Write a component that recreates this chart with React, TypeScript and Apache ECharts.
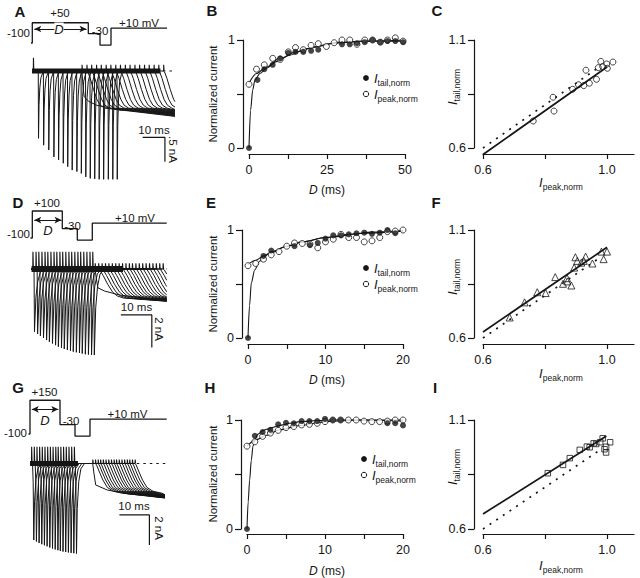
import React, { useEffect, useRef } from "react";
import * as echarts from "echarts";

const FONT = "'Liberation Sans', Arial, Helvetica, sans-serif";
const INK = "#161616";

// ---------------- Panel B (D 0–50 ms) ----------------
const B_tailX = [0, 2.7, 4.9, 7.6, 10, 12.6, 14.9, 17.4, 19.9, 22.2, 29.8, 32.3, 34.6, 37.1, 39.6, 42.1, 44.4, 46.9, 49.4];
const B_tailY = [0, 0.63, 0.73, 0.77, 0.83, 0.88, 0.89, 0.89, 0.9, 0.91, 0.96, 0.96, 0.97, 0.98, 1.0, 0.98, 0.99, 0.99, 0.98];
const B_peakX = [0, 2.4, 4.9, 7.6, 10, 12.6, 14.9, 17.4, 19.9, 22.2, 24.8, 27.3, 29.8, 32.3, 34.6, 37.1, 39.6, 42.1, 44.4, 46.9, 49.4];
const B_peakY = [0.59, 0.73, 0.77, 0.83, 0.82, 0.89, 0.93, 0.91, 0.95, 0.966, 0.94, 0.975, 1.0, 1.0, 0.96, 1.0, 1.0, 0.98, 1.0, 1.02, 0.99];
const B_tailFitX = [0, 0.5, 1.2, 1.9, 3.5, 5.6, 8.8, 13.1, 18.4, 27, 37.6, 50];
const B_tailFitY = [0, 0.35, 0.54, 0.63, 0.69, 0.74, 0.8, 0.86, 0.92, 0.97, 0.99, 1.0];
const B_peakFitX = [0, 2.4, 5.6, 9.8, 15.2, 21.6, 29.1, 37.6, 50];
const B_peakFitY = [0.6, 0.69, 0.75, 0.83, 0.89, 0.94, 0.98, 0.99, 0.99];

// ---------------- Panel E (D 0–20 ms) ----------------
const E_tailX = [0, 2, 3, 6, 8, 9, 10, 11, 12, 13, 14, 15, 16, 17, 18, 19];
const E_tailY = [0, 0.76, 0.81, 0.85, 0.86, 0.88, 0.92, 0.95, 0.95, 0.96, 0.97, 0.975, 0.965, 0.975, 1.0, 0.97];
const E_peakX = [0, 1, 2, 3, 4, 5, 6, 7, 8, 9, 10, 11, 12, 13, 14, 15, 16, 17, 18, 19, 20];
const E_peakY = [0.67, 0.69, 0.73, 0.77, 0.8, 0.85, 0.88, 0.875, 0.87, 0.835, 0.89, 0.915, 0.96, 0.93, 0.93, 0.89, 0.9, 0.93, 0.985, 0.99, 1.0];
const E_tailFitX = [0, 0.2, 0.43, 0.86, 1.5, 2, 3, 5, 7, 10, 15, 20];
const E_tailFitY = [0, 0.3, 0.51, 0.63, 0.71, 0.75, 0.8, 0.85, 0.89, 0.93, 0.97, 0.99];
const E_peakFitX = [0, 1, 2, 3, 5, 7, 10, 13, 16, 20];
const E_peakFitY = [0.68, 0.72, 0.76, 0.79, 0.85, 0.89, 0.93, 0.96, 0.98, 0.995];

// ---------------- Panel H (D 0–20 ms) ----------------
const H_tailX = [0, 1, 2, 3, 4, 5, 6, 7, 8, 9, 10, 11, 12, 18, 19, 20];
const H_tailY = [0, 0.855, 0.89, 0.91, 0.96, 0.975, 0.97, 0.99, 0.99, 0.99, 1.01, 1.0, 1.0, 0.97, 0.97, 0.95];
const H_peakX = [0, 1, 2, 3, 4, 5, 6, 7, 8, 9, 10, 11, 12, 13, 14, 15, 16, 17, 18, 19, 20];
const H_peakY = [0.76, 0.8, 0.85, 0.88, 0.905, 0.93, 0.94, 0.955, 0.96, 0.97, 0.985, 1.0, 1.0, 1.0, 1.0, 0.99, 0.985, 0.985, 0.99, 1.0, 1.0];
const H_tailFitX = [0, 0.15, 0.34, 0.55, 0.77, 1.0, 1.4, 2, 2.5, 3.2, 4.2, 5.5, 6.8, 9, 11, 15, 20];
const H_tailFitY = [0, 0.25, 0.45, 0.63, 0.76, 0.82, 0.87, 0.9, 0.915, 0.93, 0.95, 0.97, 0.985, 0.995, 1.0, 1.0, 0.99];
const H_peakFitX = [0, 1.2, 2.5, 4.2, 6.8, 10.2, 14.4, 20];
const H_peakFitY = [0.76, 0.82, 0.86, 0.91, 0.95, 0.985, 1.0, 1.0];

// ---------------- Panels C, F, I (I_tail vs I_peak) ----------------
const C_x = [0.762, 0.826, 0.829, 0.889, 0.908, 0.925, 0.943, 0.932, 0.966, 0.972, 0.98, 0.986, 0.999, 1.001, 1.019];
const C_y = [0.725, 0.835, 0.771, 0.872, 0.893, 0.889, 0.9, 0.96, 0.918, 0.972, 1.001, 0.977, 0.989, 0.969, 0.998];
const C_fitX = [0.6, 1.0];
const C_fitY = [0.57, 0.975];
const C_unityX = [0.6, 0.975];
const C_unityY = [0.6, 0.975];

const F_x = [0.686, 0.734, 0.775, 0.802, 0.833, 0.858, 0.871, 0.872, 0.885, 0.894, 0.898, 0.904, 0.917, 0.925, 0.931, 0.953, 0.982, 0.989, 1.0];
const F_y = [0.695, 0.765, 0.812, 0.808, 0.882, 0.851, 0.877, 0.862, 0.843, 0.926, 0.974, 0.957, 0.949, 0.957, 0.977, 0.945, 1.0, 0.965, 1.0];
const F_fitX = [0.6, 1.0];
const F_fitY = [0.628, 1.02];
const F_unityX = [0.6, 0.98];
const F_unityY = [0.6, 0.975];

const I_x = [0.809, 0.858, 0.88, 0.912, 0.935, 0.944, 0.957, 0.965, 0.978, 0.986, 0.992, 0.997, 1.01, 0.997];
const I_y = [0.856, 0.894, 0.925, 0.963, 0.978, 0.975, 0.993, 0.99, 0.998, 1.016, 0.966, 0.951, 0.998, 0.977];
const I_fitX = [0.6, 0.998];
const I_fitY = [0.669, 1.027];
const I_unityX = [0.6, 0.98];
const I_unityY = [0.6, 0.965];

// ---------------- Current traces (time in ms, current in nA) ----------------
// A
const A_spikeT = [3.7, 6.0, 8.3, 10.6, 12.7, 14.8, 16.8, 18.8, 20.9, 22.9, 24.9, 26.9, 28.9, 30.9, 32.9, 35.0, 37.0, 39.0];
const A_spikeI = [-1.38, -1.52, -1.62, -1.76, -1.82, -1.89, -1.96, -2.03, -2.06, -2.1, -2.17, -2.2, -2.21, -2.22, -2.22, -2.22, -2.22, -2.22];
const A_onT = [23.3, 25.5, 27.6, 29.8, 31.9, 34.1, 36.2, 38.4, 40.5, 42.7, 44.8, 47.0, 49.1, 51.3, 53.4, 55.6, 57.7, 59.9];
const A_endI = [-0.87, -0.93, -0.92, -0.91, -0.9, -0.89, -0.88, -0.87, -0.86, -0.85, -0.84, -0.83, -0.82, -0.81, -0.8, -0.79, -0.78, -0.77];
const A_spkT = [0, 0.12, 0.35, 0.7, 1.2, 2.0, 3.0];
const A_spkF = [0, 1, 0.5, 0.25, 0.1, 0.03, 0];
const A_upT = [1.5];
const A_upI = [0.27];
const A_onUpI = 0.13;
const A_firstT = [0, 0.45, 1.0, 3, 6.5, 17, 31.8];
const A_firstI = [0, -0.3, -0.53, -0.62, -0.7, -0.8, -0.834];
const A_laterT = [0, 0.45, 1.5, 3, 4.5, 6, 8];
const A_laterI = [0, -0.02, -0.15, -0.38, -0.58, -0.7, -0.76];
const A_band = [[0.9, 0], [58.5, 0]];
const A_zero = [[59.6, 0], [65, 0]];
const A_scale = [[50.5, -1.36], [60.5, -1.36], [60.5, -1.86]];

// D
const D_spikeT = [1.0, 2.0, 2.9, 3.9, 4.9, 5.8, 6.8, 7.8, 8.7, 9.7, 10.6, 11.6, 12.6, 13.5, 14.5, 15.5, 16.4, 17.4, 18.4, 19.4, 20.3];
const D_spikeI = [-3.85, -3.98, -4.1, -4.23, -4.36, -4.47, -4.57, -4.67, -4.77, -4.84, -4.91, -4.97, -5.02, -5.07, -5.11, -5.15, -5.19, -5.23, -5.25, -5.27, -5.28];
const D_onT = [21.0, 22.1, 23.2, 24.3, 25.4, 26.5, 27.6, 28.7, 29.8, 30.9, 32.0, 33.0, 34.1, 35.2, 36.3, 37.4, 38.5, 39.6, 40.7, 41.8, 42.9];
const D_endI = [-1.9, -1.98, -1.97, -1.96, -1.95, -1.94, -1.92, -1.9, -1.88, -1.86, -1.84, -1.82, -1.8, -1.78, -1.76, -1.74, -1.72, -1.7, -1.67, -1.64, -1.6];
const D_spkT = [0, 0.3, 0.45, 0.9, 1.5, 2.3, 3.5];
const D_spkF = [0, 0, 1, 0.45, 0.2, 0.06, 0];
const D_upT = [0.9, 1.9, 2.8, 3.8, 4.8, 5.7, 6.7, 7.7, 8.6, 9.6, 10.5, 11.5, 12.5, 13.4, 14.4, 15.4, 16.3, 17.3, 18.3, 19.3, 20.2];
const D_upI = [1.06, 1.06, 1.06, 1.06, 1.06, 1.06, 1.06, 1.06, 1.06, 1.06, 1.06, 1.06, 1.06, 1.06, 1.06, 1.06, 1.06, 1.06, 1.06, 1.06, 1.06];
const D_onUpI = 0.35;
const D_firstT = [0, 0.4, 0.9, 3, 8, 16.8];
const D_firstI = [0, -0.6, -1.15, -1.35, -1.6, -1.8];
const D_laterT = [0, 0.4, 1.5, 3, 4.5, 6, 8];
const D_laterI = [0, -0.05, -0.4, -0.95, -1.4, -1.65, -1.78];
const D_band = [[0.5, 0], [30, 0]];
const D_zero = [[39.7, 0], [44.1, 0]];
const D_scale = [[29.3, -2.82], [39.3, -2.82], [39.3, -4.82]];

// G
const G_spikeT = [0.56, 1.44, 2.33, 3.22, 4.1, 5.0, 5.9, 6.8, 7.7, 8.6, 9.4, 10.3, 11.2, 12.1, 13.0, 13.9, 14.8];
const G_spikeI = [-5.1, -5.2, -5.3, -5.38, -5.45, -5.52, -5.6, -5.67, -5.73, -5.78, -5.83, -5.87, -5.9, -5.93, -5.96, -5.98, -6.0];
const G_onT = [20.9, 21.8, 22.7, 23.5, 24.4, 25.3, 26.2, 27.1, 28.0, 28.8, 29.7, 30.6, 31.5, 32.4, 33.2, 34.1, 35.0];
const G_endI = [-2.21, -2.3, -2.29, -2.28, -2.27, -2.26, -2.25, -2.24, -2.23, -2.22, -2.2, -2.18, -2.16, -2.14, -2.12, -2.1, -2.08];
const G_spkT = [0, 0.3, 0.5, 0.7, 0.95, 1.45, 2.15, 3.35];
const G_spkF = [0, 0.02, 0.25, 1, 0.5, 0.2, 0.06, 0];
const G_upT = [0.5, 1.38, 2.27, 3.16, 4.04, 4.94, 5.84, 6.74, 7.64, 8.54, 9.34, 10.24, 11.14, 12.04, 12.94, 13.84, 14.74];
const G_upI = [1.12, 1.12, 1.12, 1.12, 1.12, 1.12, 1.12, 1.12, 1.12, 1.12, 1.12, 1.12, 1.12, 1.12, 1.12, 1.12, 1.12];
const G_onUpI = 0.27;
const G_firstT = [0, 0.4, 1.0, 4.9, 12.6];
const G_firstI = [0, -0.63, -1.43, -1.77, -2.05];
const G_laterT = [0, 0.4, 1.2, 2.5, 4, 6, 9];
const G_laterI = [0, -0.1, -0.5, -1.1, -1.6, -1.85, -1.98];
const G_band = [[0, 0], [16, 0]];
const G_zero = [[35.6, 0], [45.6, 0]];
const G_scale = [[29.8, -3.43], [39.8, -3.43], [39.8, -5.43]];

// ---------------- Voltage protocols (schematic time, mV) ----------------
const A_protT = [3, 4.3, 4.3, 60.3, 60.3, 72, 72, 83, 83, 139];
const A_protV = [-100, -100, 50, 50, -30, -30, -115, -115, 10, 10];
const D_protT = [2.5, 4.3, 4.3, 34.3, 34.3, 49.3, 49.3, 64.3, 64.3, 138.7];
const D_protV = [-100, -100, 100, 100, -30, -30, -115, -115, 10, 10];
const G_protT = [0.5, 2, 2, 32, 32, 47, 47, 62, 62, 138.7];
const G_protV = [-100, -100, 150, 150, -30, -30, -115, -115, 10, 10];
const A_arrow = [6.3, 58.5, 3.7];
const D_arrow = [6.3, 33.5, 33];
const G_arrow = [3.8, 30.3, 83];

type Pt = [number, number];
const zip = (xs: number[], ys: number[]): Pt[] => xs.map((x, i) => [x, ys[i]]);

type TraceCfg = {
  t0: number; tEnd: number;
  spikeT: number[]; spikeI: number[]; onT: number[]; endI: number[];
  spkT: number[]; spkF: number[];
  firstT: number[]; firstI: number[]; laterT: number[]; laterI: number[];
};

function buildSweep(c: TraceCfg, i: number): Pt[] {
  const pts: Pt[] = [[c.t0, 0]];
  const s = c.spikeT[i];
  pts.push([s, 0]);
  for (let k = 1; k < c.spkT.length; k++) pts.push([s + c.spkT[k], c.spkF[k] * c.spikeI[i]]);
  const on = c.onT[i];
  pts.push([on, 0]);
  const tT = i === 0 ? c.firstT : c.laterT;
  const tI = i === 0 ? c.firstI : c.laterI;
  let truncated = false;
  for (let k = 1; k < tT.length; k++) {
    const t = on + tT[k];
    if (t >= c.tEnd) {
      const pt = on + tT[k - 1];
      const f = (c.tEnd - pt) / (t - pt);
      pts.push([c.tEnd, tI[k - 1] + f * (tI[k] - tI[k - 1])]);
      truncated = true;
      break;
    }
    pts.push([t, tI[k]]);
  }
  if (!truncated) pts.push([c.tEnd, c.endI[i]]);
  return pts;
}

// outward transients: thin upward strokes from the zero line
function buildTicks(ts: number[], hs: number[]): any[] {
  const out: any[] = [];
  ts.forEach((t, i) => out.push([t, 0], [t + 0.05, hs[i]], [t + 0.2, 0], "-"));
  return out;
}

const A_cfg: TraceCfg = {
  t0: 0.9, tEnd: 65, spikeT: A_spikeT, spikeI: A_spikeI, onT: A_onT, endI: A_endI,
  spkT: A_spkT, spkF: A_spkF, firstT: A_firstT, firstI: A_firstI, laterT: A_laterT, laterI: A_laterI,
};
const D_cfg: TraceCfg = {
  t0: 0.5, tEnd: 44.1, spikeT: D_spikeT, spikeI: D_spikeI, onT: D_onT, endI: D_endI,
  spkT: D_spkT, spkF: D_spkF, firstT: D_firstT, firstI: D_firstI, laterT: D_laterT, laterI: D_laterI,
};
const G_cfg: TraceCfg = {
  t0: 0, tEnd: 45, spikeT: G_spikeT, spikeI: G_spikeI, onT: G_onT, endI: G_endI,
  spkT: G_spkT, spkF: G_spkF, firstT: G_firstT, firstI: G_firstI, laterT: G_laterT, laterI: G_laterI,
};

const richSub = (iSize: number, sSize: number) => ({
  i: { fontFamily: FONT, fontStyle: "italic", fontSize: iSize, lineHeight: 18, verticalAlign: "middle", fill: INK },
  s: { fontFamily: FONT, fontSize: sSize, lineHeight: 8, verticalAlign: "bottom", fill: INK },
  d: { fontFamily: FONT, fontStyle: "italic", fontSize: 12, fill: INK },
});

function txt(x: number, y: number, text: string, opts: any = {}) {
  const { rotation, align, size, bold, italic, rich, bg } = opts;
  const style: any = {
    text,
    fill: INK,
    fontFamily: FONT,
    fontSize: size || 12,
    fontWeight: bold ? "bold" : "normal",
    fontStyle: italic ? "italic" : "normal",
    align: align || "center",
    verticalAlign: "middle",
    textAlign: align || "center",
    textVerticalAlign: "middle",
  };
  if (rich) style.rich = rich;
  if (bg) style.backgroundColor = bg;
  return { type: "text", x, y, rotation: rotation || 0, silent: true, z: 50, style };
}

function buildOption(): any {
  const grids = [
    { left: 30, top: 55, width: 150, height: 128 },      // 0 A trace
    { left: 28, top: 7.9, width: 142, height: 37.8 },    // 1 A protocol
    { left: 249, top: 40, width: 156, height: 108 },     // 2 B
    { left: 483, top: 40, width: 151, height: 108 },     // 3 C
    { left: 30, top: 245, width: 150, height: 120 },     // 4 D trace
    { left: 28, top: 202.9, width: 142, height: 37.8 },  // 5 D protocol
    { left: 248, top: 230, width: 155, height: 108 },    // 6 E
    { left: 483, top: 230, width: 151, height: 108 },    // 7 F
    { left: 30, top: 440, width: 150, height: 120 },     // 8 G trace
    { left: 28, top: 398.9, width: 142, height: 37.8 },  // 9 G protocol
    { left: 247, top: 420, width: 156, height: 109 },    // 10 H
    { left: 483, top: 420, width: 151, height: 109 },    // 11 I
  ];

  const hidden = (gi: number, min: number, max: number) => ({
    gridIndex: gi, type: "value", min, max, show: false, axisLine: { onZero: false },
  });

  const axLine = { show: true, onZero: false, lineStyle: { color: INK, width: 1.2 } };
  const sx = (gi: number, min: number, max: number, ticks: number[], labels: number[], offset: number, dec: number) => ({
    gridIndex: gi, type: "value", min, max, offset, position: "bottom",
    axisLine: axLine,
    axisTick: { show: true, length: 5, customValues: ticks, lineStyle: { color: INK, width: 1.2 } },
    axisLabel: { customValues: labels, formatter: (v: number) => v.toFixed(dec), color: INK, fontFamily: FONT, fontSize: 12.5, margin: 9 },
    splitLine: { show: false },
  });
  const sy = (gi: number, min: number, max: number, ticks: number[], labels: number[], offset: number, dec: number) => ({
    gridIndex: gi, type: "value", min, max, offset, position: "left",
    axisLine: axLine,
    axisTick: { show: true, length: 6, customValues: ticks, lineStyle: { color: INK, width: 1.2 } },
    axisLabel: { customValues: labels, formatter: (v: number) => v.toFixed(dec), color: INK, fontFamily: FONT, fontSize: 12.5, margin: 8 },
    splitLine: { show: false },
  });

  const xAxis = [
    hidden(0, 0, 67.26),
    hidden(1, 0, 142),
    sx(2, 0, 50, [0, 12.5, 25, 37.5, 50], [0, 25, 50], 6, 0),
    sx(3, 0.6, 1.087, [0.6, 0.8, 1.0], [0.6, 1.0], 6, 1),
    hidden(4, 0, 48.39),
    hidden(5, 0, 142),
    sx(6, 0, 20, [0, 5, 10, 15, 20], [0, 10, 20], 6, 0),
    sx(7, 0.6, 1.087, [0.6, 0.8, 1.0], [0.6, 1.0], 6, 1),
    hidden(8, 0, 50),
    hidden(9, 0, 142),
    sx(10, 0, 20, [0, 5, 10, 15, 20], [0, 10, 20], 5, 0),
    sx(11, 0.6, 1.087, [0.6, 0.8, 1.0], [0.6, 1.0], 5, 1),
  ];
  const yAxis = [
    hidden(0, -2.295, 0.328),
    hidden(1, -120, 160),
    sy(2, 0, 1, [0, 0.5, 1], [0, 1], 6, 0),
    sy(3, 0.6, 1.1, [0.6, 0.85, 1.1], [0.6, 1.1], 9, 1),
    hidden(4, -5.89, 1.472),
    hidden(5, -120, 160),
    sy(6, 0, 1, [0, 0.5, 1], [0, 1], 6, 0),
    sy(7, 0.6, 1.1, [0.6, 0.85, 1.1], [0.6, 1.1], 9, 1),
    hidden(8, -6.433, 1.567),
    hidden(9, -120, 160),
    sy(10, 0, 1, [0, 0.5, 1], [0, 1], 6, 0),
    sy(11, 0.6, 1.1, [0.6, 0.85, 1.1], [0.6, 1.1], 9, 1),
  ];

  const series: any[] = [];
  const line = (gi: number, data: any[], width: number, extra: any = {}) => ({
    type: "line", xAxisIndex: gi, yAxisIndex: gi, data, showSymbol: false, symbol: "none",
    silent: true, clip: false, z: extra.z || 2,
    lineStyle: { color: INK, width, ...(extra.lineStyle || {}) },
    ...(extra.rest || {}),
  });

  const traces: [number, TraceCfg, number[][], number[][], number[][], number, number[], number[], number][] = [
    [0, A_cfg, A_band, A_zero, A_scale, 5, A_upT, A_upI, A_onUpI],
    [4, D_cfg, D_band, D_zero, D_scale, 6, D_upT, D_upI, D_onUpI],
    [8, G_cfg, G_band, G_zero, G_scale, 5, G_upT, G_upI, G_onUpI],
  ];
  traces.forEach(([gi, cfg, band, zero, scale, bw, upT, upI, onUp]) => {
    series.push(line(gi, band, bw, { z: 1 }));
    cfg.spikeT.forEach((_, i) => series.push(line(gi, buildSweep(cfg, i), 1, { z: 3 })));
    series.push(line(gi, buildTicks(upT, upI), 1.1, { z: 4 }));
    series.push(line(gi, buildTicks(cfg.onT, cfg.onT.map(() => onUp)), 1.1, { z: 4 }));
    series.push(line(gi, zero, 1.2, { lineStyle: { type: [2.5, 4] } }));
    series.push(line(gi, scale, 1.2));
  });

  const prots: [number, number[], number[], number[]][] = [
    [1, A_protT, A_protV, A_arrow],
    [5, D_protT, D_protV, D_arrow],
    [9, G_protT, G_protV, G_arrow],
  ];
  prots.forEach(([gi, t, v, ar]) => {
    series.push(line(gi, zip(t, v), 1.3, {
      rest: {
        markLine: {
          silent: true,
          symbol: ["arrow", "arrow"],
          symbolSize: [5, 7],
          label: { show: false },
          lineStyle: { color: INK, width: 1, type: "solid" },
          data: [[{ coord: [ar[0], ar[2]] }, { coord: [ar[1], ar[2]] }]],
        },
      },
    }));
  });

  const curves: [number, number[], number[], number[], number[], number[], number[], number[], number[]][] = [
    [2, B_tailX, B_tailY, B_peakX, B_peakY, B_tailFitX, B_tailFitY, B_peakFitX, B_peakFitY],
    [6, E_tailX, E_tailY, E_peakX, E_peakY, E_tailFitX, E_tailFitY, E_peakFitX, E_peakFitY],
    [10, H_tailX, H_tailY, H_peakX, H_peakY, H_tailFitX, H_tailFitY, H_peakFitX, H_peakFitY],
  ];
  curves.forEach(([gi, tx, ty, px, py, tfx, tfy, pfx, pfy]) => {
    series.push(line(gi, zip(tfx, tfy), 1.1, { rest: { smooth: 0.3, smoothMonotone: "x" } }));
    series.push(line(gi, zip(pfx, pfy), 1.1, { rest: { smooth: 0.3, smoothMonotone: "x" } }));
    series.push({
      type: "scatter", xAxisIndex: gi, yAxisIndex: gi, data: zip(px, py), symbol: "circle", symbolSize: 6,
      itemStyle: { color: "#fff", borderColor: INK, borderWidth: 1 }, clip: false, silent: true, z: 3,
    });
    series.push({
      type: "scatter", xAxisIndex: gi, yAxisIndex: gi, data: zip(tx, ty), symbol: "circle", symbolSize: 6,
      itemStyle: { color: INK }, clip: false, silent: true, z: 4,
    });
  });

  const scat: [number, number[], number[], number[], number[], number[], number[], string, number][] = [
    [3, C_x, C_y, C_fitX, C_fitY, C_unityX, C_unityY, "circle", 6],
    [7, F_x, F_y, F_fitX, F_fitY, F_unityX, F_unityY, "triangle", 7],
    [11, I_x, I_y, I_fitX, I_fitY, I_unityX, I_unityY, "rect", 5.5],
  ];
  scat.forEach(([gi, x, y, fx, fy, ux, uy, sym, ss]) => {
    series.push(line(gi, zip(ux, uy), 1.7, { lineStyle: { type: [2, 6] } }));
    series.push(line(gi, zip(fx, fy), 1.7));
    series.push({
      type: "scatter", xAxisIndex: gi, yAxisIndex: gi, data: zip(x, y), symbol: sym, symbolSize: ss,
      itemStyle: { color: "rgba(255,255,255,0)", borderColor: INK, borderWidth: 1 }, clip: false, silent: true, z: 3,
    });
  });

  const R = richSub(13, 8.5);
  const g: any[] = [];
  ([["A", 20, 11.5], ["B", 212, 10], ["C", 437, 10], ["D", 18, 202], ["E", 211, 202], ["F", 436, 202],
    ["G", 18, 387], ["H", 210, 387], ["I", 435, 387]] as [string, number, number][]).forEach(([l, x, y]) =>
    g.push(txt(x, y, l, { size: 15, bold: true })));

  g.push(txt(60, 12.5, "+50", { size: 11.5 }));
  g.push(txt(30, 33, "-100", { size: 11.5, align: "right" }));
  g.push(txt(100, 31, "-30", { size: 11.5 }));
  g.push(txt(139, 22.5, "+10 mV", { size: 11.5 }));
  g.push(txt(59, 29, "D", { size: 13, italic: true, bg: "#fff" }));

  g.push(txt(47, 202.5, "+100", { size: 11.5 }));
  g.push(txt(30, 234, "-100", { size: 11.5, align: "right" }));
  g.push(txt(72.5, 226, "-30", { size: 11.5 }));
  g.push(txt(135, 218, "+10 mV", { size: 11.5 }));
  g.push(txt(48, 230, "D", { size: 13, italic: true }));

  g.push(txt(44.5, 392, "+150", { size: 11.5 }));
  g.push(txt(27, 433, "-100", { size: 11.5, align: "right" }));
  g.push(txt(71, 420.5, "-30", { size: 11.5 }));
  g.push(txt(127.5, 414, "+10 mV", { size: 11.5 }));
  g.push(txt(45, 420, "D", { size: 13, italic: true }));

  g.push(txt(154, 130, "10 ms", { size: 11.5 }));
  g.push(txt(172.5, 149.5, ".5 nA", { size: 11.5, rotation: -Math.PI / 2 }));
  g.push(txt(136.5, 307, "10 ms", { size: 11.5 }));
  g.push(txt(159, 329, "2 nA", { size: 11.5, rotation: -Math.PI / 2 }));
  g.push(txt(134, 506, "10 ms", { size: 11.5 }));
  g.push(txt(159, 528, "2 nA", { size: 11.5, rotation: -Math.PI / 2 }));

  ([[94, 190, 78, 94, 366], [284, 380, 268, 284, 366], [474, 571, 459, 475, 364]] as number[][]).forEach(
    ([yc, xn, l1, l2, lx]) => {
      g.push(txt(213, yc, "Normalized current", { size: 11.5, rotation: Math.PI / 2 }));
      g.push(txt(327, xn, "{d|D} (ms)", { size: 12, rich: R }));
      g.push({ type: "circle", silent: true, shape: { cx: lx, cy: l1, r: 2.9 }, style: { fill: INK } });
      g.push({ type: "circle", silent: true, shape: { cx: lx, cy: l2, r: 2.7 }, style: { fill: "#fff", stroke: INK, lineWidth: 1 } });
      g.push(txt(lx + 8, l1, "{i|I}{s|tail,norm}", { align: "left", rich: R }));
      g.push(txt(lx + 8, l2, "{i|I}{s|peak,norm}", { align: "left", rich: R }));
    });

  ([[87, 182], [277, 373], [467, 565]] as number[][]).forEach(([yc, xn]) => {
    g.push(txt(452, yc, "{i|I}{s|tail,norm}", { rotation: Math.PI / 2, rich: R }));
    g.push(txt(561, xn, "{i|I}{s|peak,norm}", { rich: R }));
  });

  return {
    animation: false,
    backgroundColor: "#fff",
    textStyle: { fontFamily: FONT },
    grid: grids,
    xAxis,
    yAxis,
    series,
    graphic: { elements: g },
  };
}

export default function App() {
  const ref = useRef<HTMLDivElement>(null);
  useEffect(() => {
    document.body.style.margin = "0";
    const chart = echarts.init(ref.current!, null, { renderer: "svg" });
    chart.setOption(buildOption());
    return () => chart.dispose();
  }, []);
  return <div ref={ref} style={{ width: 640, height: 578, background: "#fff" }} />;
}
